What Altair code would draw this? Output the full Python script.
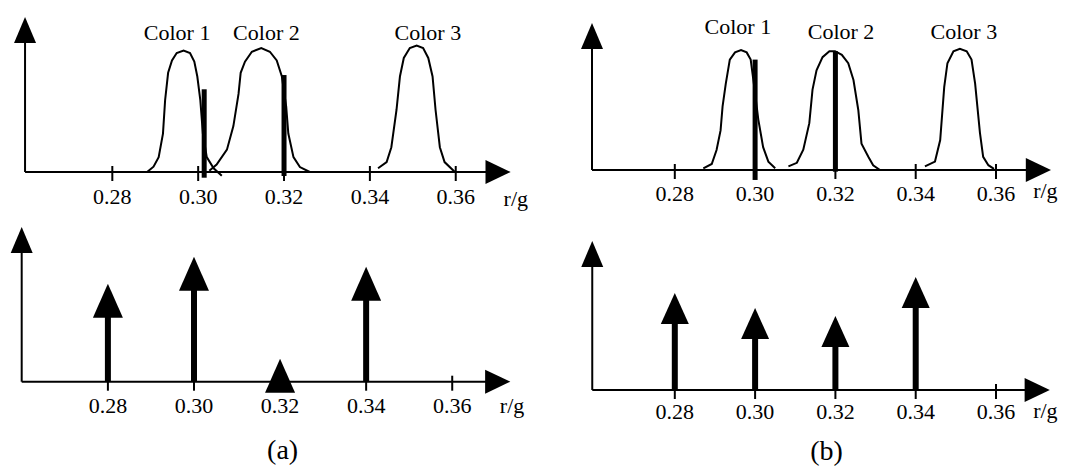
import altair as alt
import pandas as pd

FONT = "Liberation Serif"

# ---------------- data ----------------
R_TICKS = [0.28, 0.30, 0.32, 0.34, 0.36]
TICK_TEXT = ["0.28", "0.30", "0.32", "0.34", "0.36"]
CURVE_NAMES = ["Color 1", "Color 2", "Color 3"]

# (a) top: colour distributions along r/g
A_C1_R = [0.2881, 0.2896, 0.2908, 0.2918, 0.2923, 0.2930, 0.2939, 0.2950, 0.2966,
          0.2981, 0.2991, 0.2998, 0.3005, 0.3011, 0.3020, 0.3036, 0.3055]
A_C1_V = [0.00, 0.043, 0.12, 0.31, 0.58, 0.80, 0.90, 0.96, 0.98,
          0.96, 0.89, 0.77, 0.58, 0.31, 0.12, 0.03, -0.03]
A_C2_R = [0.3026, 0.3043, 0.3067, 0.3082, 0.3094, 0.3099, 0.3109, 0.3125, 0.3147,
          0.3167, 0.3183, 0.3195, 0.3205, 0.3210, 0.3222, 0.3237, 0.3260]
A_C2_V = [0.01, 0.06, 0.18, 0.37, 0.63, 0.80, 0.89, 0.97, 1.00,
          0.97, 0.90, 0.77, 0.53, 0.31, 0.12, 0.04, 0.00]
A_C3_R = [0.3419, 0.3439, 0.3450, 0.3462, 0.3470, 0.3479, 0.3493, 0.3509,
          0.3524, 0.3536, 0.3546, 0.3553, 0.3563, 0.3574, 0.3598]
A_C3_V = [0.03, 0.08, 0.20, 0.50, 0.77, 0.92, 1.00, 1.02,
          1.00, 0.92, 0.77, 0.50, 0.20, 0.08, 0.00]

# (b) top
B_C1_R = [0.2871, 0.2892, 0.2904, 0.2914, 0.2919, 0.2927, 0.2937, 0.2950, 0.2965,
          0.2979, 0.2989, 0.2998, 0.3008, 0.3020, 0.3033, 0.3050]
B_C1_V = [0.014, 0.05, 0.167, 0.33, 0.53, 0.72, 0.92, 0.98, 1.00,
          0.98, 0.92, 0.69, 0.42, 0.19, 0.07, 0.014]
B_C2_R = [0.3083, 0.3104, 0.3120, 0.3135, 0.3143, 0.3153, 0.3168, 0.3185, 0.3199,
          0.3216, 0.3232, 0.3245, 0.3257, 0.3265, 0.3282, 0.3294, 0.3311]
B_C2_V = [0.03, 0.06, 0.17, 0.39, 0.67, 0.83, 0.94, 0.99, 0.99,
          0.96, 0.89, 0.75, 0.50, 0.22, 0.11, 0.04, 0.00]
B_C3_R = [0.3423, 0.3448, 0.3461, 0.3471, 0.3479, 0.3494, 0.3510,
          0.3527, 0.3539, 0.3548, 0.3560, 0.3568, 0.3581, 0.3595]
B_C3_V = [0.03, 0.07, 0.25, 0.69, 0.89, 0.99, 1.01,
          0.99, 0.92, 0.72, 0.31, 0.11, 0.04, 0.01]

# colour-name anchors (r/g, height)
A_NAME_R = [0.2951, 0.3159, 0.3535]
A_NAME_V = [1.065, 1.065, 1.065]
B_NAME_R = [0.2957, 0.3214, 0.3520]
B_NAME_V = [1.133, 1.092, 1.092]

# thick vertical bars in the top panels
A_BAR_R = [0.3014, 0.3200]
A_BAR_LO = [-0.046, -0.032]
A_BAR_HI = [0.667, 0.782]
B_BAR_R = [0.3000, 0.3200]
B_BAR_LO = [-0.083, -0.014]
B_BAR_HI = [0.92, 0.99]

# arrows in the bottom panels
ARROW_R = [0.28, 0.30, 0.32, 0.34]
A_ARROW_V = [0.98, 1.25, 0.23, 1.15]
B_ARROW_V = [0.97, 0.82, 0.74, 1.13]

CAPTIONS = ["(a)", "(b)"]
CAPTION_R = [0.3206, 0.3178]
CAPTION_V = [-0.775, -0.70]

# ---------------- panel geometry ----------------
UP_HEAD = "M0,0L1,2.36L-1,2.36Z"
RIGHT_HEAD = "M0,0L-2.1,-1L-2.1,1Z"
A_HEAD = "M0,0L1,2.27L-1,2.27Z"
B_HEAD = "M0,0L1,2.21L-1,2.21Z"

G_TL = dict(xdom=[0.2557, 0.3759], w=516, kx=4295, ydom=[-0.0806, 1.3226], h=174, ky=124,
            y0=0.25967, xtip=0.3728, ytip=1.25, ldy=32, rg=0.3740, rgdy=34)
G_TR = dict(xdom=[0.257385, 0.376934], w=480, kx=4015, ydom=[-0.10, 1.35], h=174, ky=120,
            y0=0.25938, xtip=0.3737, ytip=1.225, ldy=31, rg=0.3723, rgdy=28)
G_BL = dict(xdom=[0.256789, 0.376677], w=516, kx=4304, ydom=[-0.153, 1.597], h=175, ky=100,
            y0=0.25997, xtip=0.3735, ytip=1.547, ldy=31, rg=0.3739, rgdy=31)
G_BR = dict(xdom=[0.257385, 0.376934], w=480, kx=4015, ydom=[-0.07, 1.68], h=175, ky=100,
            y0=0.25944, xtip=0.3734, ytip=1.49, ldy=29, rg=0.3723, rgdy=28)


def panel(g, curves=None, names=None, bars=None, arrows=None, caption=None):
    def X(f="r"):
        return alt.X(f"{f}:Q", scale=alt.Scale(domain=g["xdom"], nice=False, zero=False), axis=None)

    def Y(f="v"):
        return alt.Y(f"{f}:Q", scale=alt.Scale(domain=g["ydom"], nice=False, zero=False), axis=None)

    layers = []
    # axes
    yax = pd.DataFrame({"r": [g["y0"]], "v": [0.0], "v2": [g["ytip"] - 12 / g["ky"]]})
    layers.append(alt.Chart(yax).mark_rule(color="black", strokeWidth=2)
                  .encode(x=X(), y=Y(), y2="v2:Q"))
    xax = pd.DataFrame({"r": [g["y0"]], "r2": [g["xtip"] - 12 / g["kx"]], "v": [0.0]})
    layers.append(alt.Chart(xax).mark_rule(color="black", strokeWidth=2)
                  .encode(x=X(), x2="r2:Q", y=Y()))
    layers.append(alt.Chart(pd.DataFrame({"r": [g["y0"]], "v": [g["ytip"]]}))
                  .mark_point(shape=UP_HEAD, size=484, filled=True, color="black", opacity=1, strokeWidth=0)
                  .encode(x=X(), y=Y()))
    layers.append(alt.Chart(pd.DataFrame({"r": [g["xtip"]], "v": [0.0]}))
                  .mark_point(shape=RIGHT_HEAD, size=576, filled=True, color="black", opacity=1, strokeWidth=0)
                  .encode(x=X(), y=Y()))
    # ticks and tick labels
    ticks = pd.DataFrame({"r": R_TICKS, "v": 0.0, "lo": -9 / g["ky"], "hi": 6 / g["ky"], "t": TICK_TEXT})
    layers.append(alt.Chart(ticks).mark_rule(color="black", strokeWidth=2)
                  .encode(x=X(), y=Y("lo"), y2="hi:Q"))
    layers.append(alt.Chart(ticks).mark_text(dy=g["ldy"], baseline="alphabetic", align="center",
                                             font=FONT, fontSize=22, color="black")
                  .encode(x=X(), y=Y(), text="t:N"))
    rg = pd.DataFrame({"r": [g["rg"]], "v": [0.0], "t": ["r/g"]})
    layers.append(alt.Chart(rg).mark_text(dy=g["rgdy"], baseline="alphabetic", align="center",
                                          font=FONT, fontSize=22, color="black")
                  .encode(x=X(), y=Y(), text="t:N"))

    if curves is not None:
        rows = []
        for name, (rs, vs) in zip(CURVE_NAMES, curves):
            for i, (r, v) in enumerate(zip(rs, vs)):
                rows.append({"name": name, "i": i, "r": r, "v": v})
        cdf = pd.DataFrame(rows)
        layers.append(alt.Chart(cdf).mark_line(color="black", strokeWidth=2)
                      .encode(x=X(), y=Y(), detail="name:N", order="i:Q"))
    if names is not None:
        ndf = pd.DataFrame({"r": names[0], "v": names[1], "t": CURVE_NAMES})
        layers.append(alt.Chart(ndf).mark_text(baseline="alphabetic", align="center",
                                               font=FONT, fontSize=22, color="black")
                      .encode(x=X(), y=Y(), text="t:N"))
    if bars is not None:
        bdf = pd.DataFrame({"r": bars[0], "lo": bars[1], "hi": bars[2]})
        layers.append(alt.Chart(bdf).mark_rule(color="black", strokeWidth=5)
                      .encode(x=X(), y=Y("lo"), y2="hi:Q"))
    if arrows is not None:
        vals, head, hsize = arrows
        adf = pd.DataFrame({"r": ARROW_R, "v": vals})
        adf["base"] = 0.0
        adf["top"] = adf["v"] - 16 / g["ky"]
        layers.append(alt.Chart(adf).mark_rule(color="black", strokeWidth=6)
                      .encode(x=X(), y=Y("base"), y2="top:Q"))
        layers.append(alt.Chart(adf).mark_point(shape=head, size=hsize, filled=True, color="black",
                                                opacity=1, strokeWidth=0)
                      .encode(x=X(), y=Y()))
    if caption is not None:
        kdf = pd.DataFrame({"r": [caption[1]], "v": [caption[2]], "t": [caption[0]]})
        layers.append(alt.Chart(kdf).mark_text(baseline="alphabetic", align="center",
                                               font=FONT, fontSize=28, color="black")
                      .encode(x=X(), y=Y(), text="t:N"))

    return alt.layer(*layers).properties(width=g["w"], height=g["h"])


tl = panel(G_TL, curves=[(A_C1_R, A_C1_V), (A_C2_R, A_C2_V), (A_C3_R, A_C3_V)],
           names=(A_NAME_R, A_NAME_V), bars=(A_BAR_R, A_BAR_LO, A_BAR_HI))
tr = panel(G_TR, curves=[(B_C1_R, B_C1_V), (B_C2_R, B_C2_V), (B_C3_R, B_C3_V)],
           names=(B_NAME_R, B_NAME_V), bars=(B_BAR_R, B_BAR_LO, B_BAR_HI))
bl = panel(G_BL, arrows=(A_ARROW_V, A_HEAD, 900),
           caption=(CAPTIONS[0], CAPTION_R[0], CAPTION_V[0]))
br = panel(G_BR, arrows=(B_ARROW_V, B_HEAD, 784),
           caption=(CAPTIONS[1], CAPTION_R[1], CAPTION_V[1]))

chart = (alt.concat(tl, tr, bl, br, columns=2, spacing={"row": 40, "column": 60}, bounds="flush")
         .properties(padding=0, background="white")
         .configure_view(stroke=None))

chart.save("out.html", embed_options={"renderer": "svg", "actions": False})
